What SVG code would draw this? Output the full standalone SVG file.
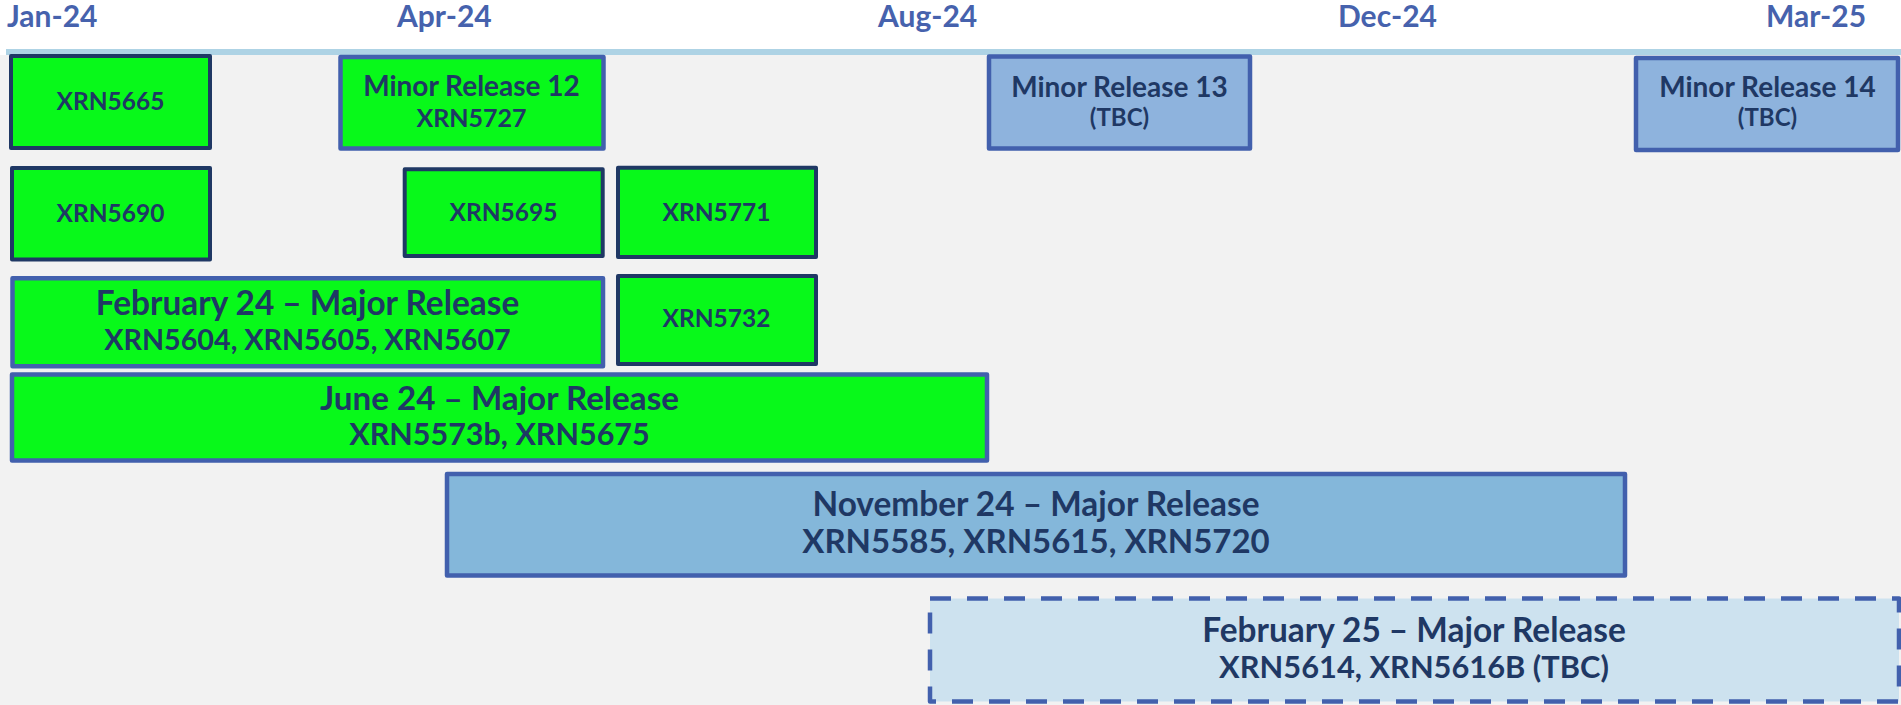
<svg xmlns="http://www.w3.org/2000/svg" width="1901" height="705" viewBox="0 0 1901 705">
<style>
.hdr{font-family:Lato,"Liberation Sans",sans-serif;font-weight:bold;font-size:30px;fill:#4662ad}
.t{font-family:Lato,"Liberation Sans",sans-serif;font-weight:bold;fill:#1f3864;text-anchor:middle}
.s{font-size:24.5px}
.tbc{font-size:24px}
.m{font-size:28px}
.g{fill:#08f91a}
.nv{stroke:#1f3864;stroke-width:4;stroke-linejoin:round}
.bl{stroke:#4260ad;stroke-width:4.5;stroke-linejoin:round}
</style>
<rect x="0" y="0" width="1901" height="705" fill="#ffffff"/>
<rect x="0" y="55" width="1901" height="650" fill="#f2f2f2"/>
<rect x="6" y="49" width="1895" height="6" fill="#aed3e5"/>
<g id="axis">
<text class="hdr" x="7" y="27">Jan-24</text>
<text class="hdr" x="397" y="27">Apr-24</text>
<text class="hdr" x="878" y="27">Aug-24</text>
<text class="hdr" x="1338" y="27">Dec-24</text>
<text class="hdr" x="1766" y="27">Mar-25</text>
</g>
<g id="connectors"></g>
<g id="xrn5665"><rect class="g nv" x="11" y="56" width="199" height="92"/><text class="t s" x="110.5" y="110">XRN5665</text></g>
<g id="minor12"><rect class="g bl" x="340.5" y="57" width="263" height="91.5"/><text class="t m" x="471.5" y="96">Minor Release 12</text><text class="t" font-size="25" x="471.5" y="127">XRN5727</text></g>
<g id="minor13"><rect class="bl" fill="#8eb3dd" x="989" y="56.5" width="261" height="92"/><text class="t m" x="1119.5" y="97">Minor Release 13</text><text class="t tbc" x="1119.5" y="126">(TBC)</text></g>
<g id="minor14"><rect class="bl" fill="#8eb3dd" x="1636" y="58" width="262" height="92"/><text class="t m" x="1767.5" y="97">Minor Release 14</text><text class="t tbc" x="1767.5" y="126">(TBC)</text></g>
<g id="xrn5690"><rect class="g nv" x="12" y="168" width="198" height="91.5"/><text class="t s" x="110.5" y="222">XRN5690</text></g>
<g id="xrn5695"><rect class="g nv" x="404.7" y="169.3" width="198" height="86.7"/><text class="t s" x="503.5" y="220.7">XRN5695</text></g>
<g id="xrn5771"><rect class="g nv" x="618" y="167.7" width="198" height="89.3"/><text class="t s" x="716.5" y="220.7">XRN5771</text></g>
<g id="feb24"><rect class="g bl" x="12.5" y="278.3" width="590.5" height="88"/><text class="t" font-size="33.4" x="307.5" y="315">February 24 – Major Release</text><text class="t" font-size="28.7" x="307.5" y="350">XRN5604, XRN5605, XRN5607</text></g>
<g id="xrn5732"><rect class="g nv" x="618" y="276" width="198" height="88"/><text class="t s" x="716.5" y="327.3">XRN5732</text></g>
<g id="jun24"><rect class="g bl" x="12" y="374.5" width="975" height="86"/><text class="t" font-size="33.2" x="499.5" y="410">June 24 – Major Release</text><text class="t" font-size="30.5" x="499.5" y="445">XRN5573b, XRN5675</text></g>
<g id="nov24"><rect class="bl" fill="#84b7da" x="447" y="474" width="1178" height="101.5"/><text class="t" font-size="33.4" x="1036" y="516">November 24 – Major Release</text><text class="t" font-size="33" x="1036" y="553">XRN5585, XRN5615, XRN5720</text></g>
<g id="feb25"><rect class="bl" fill="#cde2ef" stroke-dasharray="21 16" stroke-linejoin="miter" x="930" y="598.5" width="969" height="103"/><text class="t" font-size="33.4" x="1414" y="642">February 25 – Major Release</text><text class="t" font-size="30.8" x="1414" y="678">XRN5614, XRN5616B (TBC)</text></g>
</svg>
